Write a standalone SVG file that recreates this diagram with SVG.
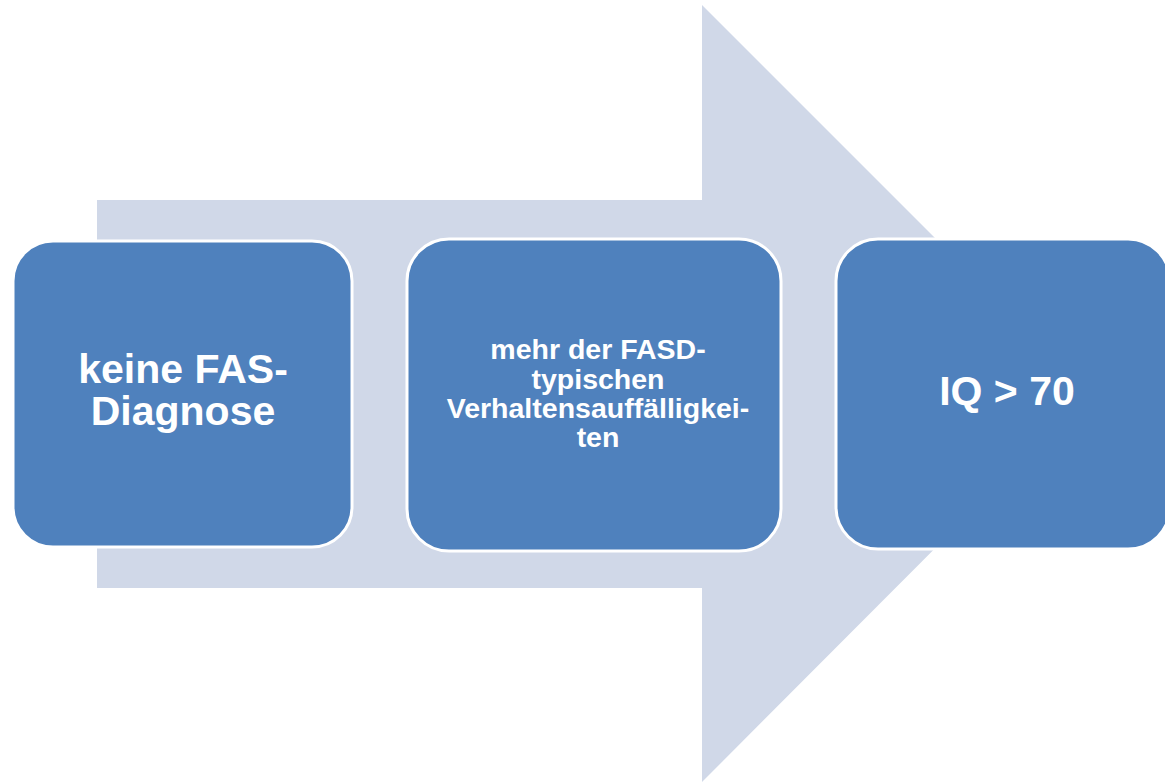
<svg xmlns="http://www.w3.org/2000/svg" width="1165" height="784" viewBox="0 0 1165 784">
  <style>
    .box { fill: #4F81BD; stroke: #FFFFFF; stroke-width: 3; }
    .lbl { fill: #FFFFFF; font-family: "Liberation Sans", Arial, sans-serif; font-weight: bold; text-anchor: middle; }
    .big { font-size: 41px; }
    .small { font-size: 28.5px; }
  </style>
  <rect width="1165" height="784" fill="#FFFFFF"/>
  <g id="connectors">
    <polygon id="arrow" points="97,200 702,200 702,5 1090,393 702,782 702,588 97,588" fill="#D0D8E8"/>
  </g>
  <g id="node1">
    <rect class="box" x="13" y="241" width="339" height="306" rx="40" ry="40"/>
    <text class="lbl big" x="183" y="383">keine FAS-</text>
    <text class="lbl big" x="183" y="425">Diagnose</text>
  </g>
  <g id="node2">
    <rect class="box" x="407" y="239" width="374" height="312" rx="42" ry="42"/>
    <text class="lbl small" x="598" y="359">mehr der FASD-</text>
    <text class="lbl small" x="598" y="389">typischen</text>
    <text class="lbl small" x="598" y="418">Verhaltensauffälligkei-</text>
    <text class="lbl small" x="598" y="447">ten</text>
  </g>
  <g id="node3">
    <rect class="box" x="836" y="239" width="334" height="310" rx="42" ry="42"/>
    <text class="lbl big" x="1007" y="405">IQ &gt; 70</text>
  </g>
</svg>
